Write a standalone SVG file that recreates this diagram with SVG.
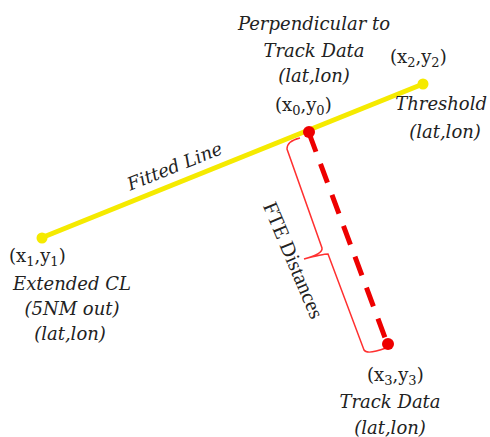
<svg xmlns="http://www.w3.org/2000/svg" width="490" height="437" viewBox="0 0 490 437">
<style>
.lbl{font-family:"DejaVu Serif","Liberation Serif",serif;font-style:italic;font-size:18px;fill:#222}
.crd{font-family:"DejaVu Serif","Liberation Serif",serif;font-size:18px;fill:#222}
.sub{font-size:13px}
</style>
<rect width="490" height="437" fill="#fff"/>
<g id="connectors">
<line id="fitted-line" x1="41" y1="238" x2="423" y2="84" stroke="#f5ea00" stroke-width="5"/>
<line id="fte" x1="309" y1="133" x2="387" y2="343" stroke="#ee0000" stroke-width="5" stroke-dasharray="20 13"/>
<path id="brace" d="M300,138 Q287,141 287,149 L322,248 Q323,254 304,259 M304,259 Q323,254 328,254 L364,350 Q367,355 386,348" fill="none" stroke="#ff3030" stroke-width="1.5"/>
<text class="lbl" transform="translate(177,172) rotate(-21.8)" text-anchor="middle">Fitted Line</text>
<text transform="translate(287,263) rotate(67)" text-anchor="middle" style="font-family:'Liberation Serif',serif;font-size:21px;fill:#222">FTE Distances</text>
</g>
<g id="node-x1">
<circle cx="42" cy="238" r="5.5" fill="#f5ea00"/>
<text class="crd" x="9" y="262">(x<tspan class="sub" dy="4">1</tspan><tspan dy="-4">,y</tspan><tspan class="sub" dy="4">1</tspan><tspan dy="-4">)</tspan></text>
<text class="lbl" x="72" y="290" text-anchor="middle">Extended CL</text>
<text class="lbl" x="72" y="315" text-anchor="middle">(5NM out)</text>
<text class="lbl" x="70" y="340" text-anchor="middle">(lat,lon)</text>
</g>
<g id="node-x2">
<circle cx="423" cy="84" r="5.5" fill="#f5ea00"/>
<text class="crd" x="390" y="63">(x<tspan class="sub" dy="4">2</tspan><tspan dy="-4">,y</tspan><tspan class="sub" dy="4">2</tspan><tspan dy="-4">)</tspan></text>
<text class="lbl" x="487" y="110" text-anchor="end">Threshold</text>
<text class="lbl" x="445" y="138" text-anchor="middle">(lat,lon)</text>
</g>
<g id="node-x0">
<circle cx="309" cy="132" r="6" fill="#ee0000"/>
<text class="lbl" x="314" y="30" text-anchor="middle">Perpendicular to</text>
<text class="lbl" x="314" y="57" text-anchor="middle">Track Data</text>
<text class="lbl" x="314" y="82" text-anchor="middle">(lat,lon)</text>
<text class="crd" x="275" y="111">(x<tspan class="sub" dy="4">0</tspan><tspan dy="-4">,y</tspan><tspan class="sub" dy="4">0</tspan><tspan dy="-4">)</tspan></text>
</g>
<g id="node-x3">
<circle cx="388" cy="344" r="6" fill="#ee0000"/>
<text class="crd" x="367" y="381">(x<tspan class="sub" dy="4">3</tspan><tspan dy="-4">,y</tspan><tspan class="sub" dy="4">3</tspan><tspan dy="-4">)</tspan></text>
<text class="lbl" x="390" y="408" text-anchor="middle">Track Data</text>
<text class="lbl" x="390" y="434" text-anchor="middle">(lat,lon)</text>
</g>
</svg>
